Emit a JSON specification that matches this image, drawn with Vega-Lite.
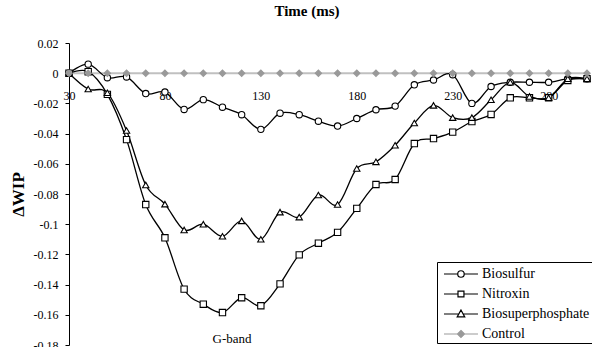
{
  "$schema": "https://vega.github.io/schema/vega-lite/v6.json",
  "width": 518,
  "height": 302,
  "autosize": {"type": "none"},
  "padding": {"left": 69, "top": 43, "right": 5, "bottom": 2},
  "background": "white",
  "title": {"text": "Time (ms)", "font": "Liberation Serif, Times New Roman, DejaVu Serif, serif", "fontSize": 15, "fontWeight": "bold", "anchor": "middle", "frame": "group", "dx": -21, "offset": 18, "color": "black"},
  "config": {
    "view": {"stroke": null},
    "font": "Liberation Serif, Times New Roman, DejaVu Serif, serif",
    "axis": {"labelFont": "Liberation Serif, Times New Roman, DejaVu Serif, serif", "titleFont": "Liberation Serif, Times New Roman, DejaVu Serif, serif", "labelOverlap": false},
    "legend": {"orient": "none", "legendX": 368, "legendY": 219, "title": null, "labelFont": "Liberation Serif, Times New Roman, DejaVu Serif, serif", "labelFontSize": 14, "labelColor": "black", "strokeColor": "black", "fillColor": "white", "padding": 2, "rowPadding": 3, "symbolSize": 324, "labelOffset": 23, "symbolStrokeWidth": 1.2, "cornerRadius": 0, "symbolOpacity": 1}
  },
  "resolve": {"scale": {"shape": "independent", "fill": "independent", "stroke": "independent"}},
  "data": {"values": [
    {"t":30,"s":"Biosulfur","v":0},{"t":40,"s":"Biosulfur","v":0.006},{"t":50,"s":"Biosulfur","v":-0.003},{"t":60,"s":"Biosulfur","v":-0.0025},{"t":70,"s":"Biosulfur","v":-0.0135},{"t":80,"s":"Biosulfur","v":-0.0125},{"t":90,"s":"Biosulfur","v":-0.024},{"t":100,"s":"Biosulfur","v":-0.0175},{"t":110,"s":"Biosulfur","v":-0.0225},{"t":120,"s":"Biosulfur","v":-0.0275},{"t":130,"s":"Biosulfur","v":-0.0372},{"t":140,"s":"Biosulfur","v":-0.0265},{"t":150,"s":"Biosulfur","v":-0.0275},{"t":160,"s":"Biosulfur","v":-0.0318},{"t":170,"s":"Biosulfur","v":-0.035},{"t":180,"s":"Biosulfur","v":-0.03},{"t":190,"s":"Biosulfur","v":-0.0242},{"t":200,"s":"Biosulfur","v":-0.0218},{"t":210,"s":"Biosulfur","v":-0.0077},{"t":220,"s":"Biosulfur","v":-0.0045},{"t":230,"s":"Biosulfur","v":-0.001},{"t":240,"s":"Biosulfur","v":-0.02},{"t":250,"s":"Biosulfur","v":-0.0088},{"t":260,"s":"Biosulfur","v":-0.006},{"t":270,"s":"Biosulfur","v":-0.006},{"t":280,"s":"Biosulfur","v":-0.006},{"t":290,"s":"Biosulfur","v":-0.0037},{"t":300,"s":"Biosulfur","v":-0.0037},
    {"t":30,"s":"Nitroxin","v":0},{"t":40,"s":"Nitroxin","v":0.001},{"t":50,"s":"Nitroxin","v":-0.014},{"t":60,"s":"Nitroxin","v":-0.044},{"t":70,"s":"Nitroxin","v":-0.087},{"t":80,"s":"Nitroxin","v":-0.109},{"t":90,"s":"Nitroxin","v":-0.143},{"t":100,"s":"Nitroxin","v":-0.153},{"t":110,"s":"Nitroxin","v":-0.1585},{"t":120,"s":"Nitroxin","v":-0.1487},{"t":130,"s":"Nitroxin","v":-0.154},{"t":140,"s":"Nitroxin","v":-0.1395},{"t":150,"s":"Nitroxin","v":-0.1203},{"t":160,"s":"Nitroxin","v":-0.1126},{"t":170,"s":"Nitroxin","v":-0.1054},{"t":180,"s":"Nitroxin","v":-0.0895},{"t":190,"s":"Nitroxin","v":-0.0737},{"t":200,"s":"Nitroxin","v":-0.0704},{"t":210,"s":"Nitroxin","v":-0.0466},{"t":220,"s":"Nitroxin","v":-0.0433},{"t":230,"s":"Nitroxin","v":-0.039},{"t":240,"s":"Nitroxin","v":-0.032},{"t":250,"s":"Nitroxin","v":-0.0273},{"t":260,"s":"Nitroxin","v":-0.0163},{"t":270,"s":"Nitroxin","v":-0.0163},{"t":280,"s":"Nitroxin","v":-0.0163},{"t":290,"s":"Nitroxin","v":-0.0048},{"t":300,"s":"Nitroxin","v":-0.0037},
    {"t":30,"s":"Biosuperphosphate","v":0},{"t":40,"s":"Biosuperphosphate","v":-0.0105},{"t":50,"s":"Biosuperphosphate","v":-0.013},{"t":60,"s":"Biosuperphosphate","v":-0.038},{"t":70,"s":"Biosuperphosphate","v":-0.074},{"t":80,"s":"Biosuperphosphate","v":-0.0867},{"t":90,"s":"Biosuperphosphate","v":-0.1038},{"t":100,"s":"Biosuperphosphate","v":-0.1},{"t":110,"s":"Biosuperphosphate","v":-0.108},{"t":120,"s":"Biosuperphosphate","v":-0.0978},{"t":130,"s":"Biosuperphosphate","v":-0.11},{"t":140,"s":"Biosuperphosphate","v":-0.092},{"t":150,"s":"Biosuperphosphate","v":-0.0953},{"t":160,"s":"Biosuperphosphate","v":-0.0807},{"t":170,"s":"Biosuperphosphate","v":-0.087},{"t":180,"s":"Biosuperphosphate","v":-0.0631},{"t":190,"s":"Biosuperphosphate","v":-0.0587},{"t":200,"s":"Biosuperphosphate","v":-0.0477},{"t":210,"s":"Biosuperphosphate","v":-0.033},{"t":220,"s":"Biosuperphosphate","v":-0.0213},{"t":230,"s":"Biosuperphosphate","v":-0.0294},{"t":240,"s":"Biosuperphosphate","v":-0.0294},{"t":250,"s":"Biosuperphosphate","v":-0.0176},{"t":260,"s":"Biosuperphosphate","v":-0.006},{"t":270,"s":"Biosuperphosphate","v":-0.0154},{"t":280,"s":"Biosuperphosphate","v":-0.0163},{"t":290,"s":"Biosuperphosphate","v":-0.0037},{"t":300,"s":"Biosuperphosphate","v":-0.0037},
    {"t":30,"s":"Control","v":0},{"t":40,"s":"Control","v":0},{"t":50,"s":"Control","v":0},{"t":60,"s":"Control","v":0},{"t":70,"s":"Control","v":0},{"t":80,"s":"Control","v":0},{"t":90,"s":"Control","v":0},{"t":100,"s":"Control","v":0},{"t":110,"s":"Control","v":0},{"t":120,"s":"Control","v":0},{"t":130,"s":"Control","v":0},{"t":140,"s":"Control","v":0},{"t":150,"s":"Control","v":0},{"t":160,"s":"Control","v":0},{"t":170,"s":"Control","v":0},{"t":180,"s":"Control","v":0},{"t":190,"s":"Control","v":0},{"t":200,"s":"Control","v":0},{"t":210,"s":"Control","v":0},{"t":220,"s":"Control","v":0},{"t":230,"s":"Control","v":0},{"t":240,"s":"Control","v":0},{"t":250,"s":"Control","v":0},{"t":260,"s":"Control","v":0},{"t":270,"s":"Control","v":0},{"t":280,"s":"Control","v":0},{"t":290,"s":"Control","v":0},{"t":300,"s":"Control","v":0}
  ]},
  "encoding": {
    "x": {"field": "t", "type": "quantitative", "scale": {"domain": [30, 300], "nice": false, "zero": false},
      "axis": {"orient": "bottom", "offset": -271.8, "values": [30, 80, 130, 180, 230, 280], "ticks": false, "domain": false, "grid": false, "title": null, "labelFontSize": 12, "labelColor": "black", "labelPadding": 17, "labelFlush": false, "labelOverlap": false, "format": "d"}},
    "y": {"field": "v", "type": "quantitative", "scale": {"domain": [-0.18, 0.02], "nice": false, "zero": false},
      "axis": {"values": [0.02, 0, -0.02, -0.04, -0.06, -0.08, -0.1, -0.12, -0.14, -0.16, -0.18], "labelExpr": "(datum.value < 0 ? '-' : '') + format(abs(datum.value), '.2~f')", "grid": false, "title": "ΔWIP", "titleFontSize": 17, "titleFontWeight": "bold", "titleColor": "black", "titlePadding": 6, "tickSize": 4, "tickColor": "black", "domainColor": "black", "labelPadding": 7, "labelFontSize": 12, "labelColor": "black", "labelFlush": false, "labelOverlap": false}}
  },
  "layer": [
    {
      "transform": [{"filter": "datum.s == 'Control'"}],
      "mark": {"type": "line", "color": "#c0c0c0", "strokeWidth": 2}
    },
    {
      "transform": [{"filter": "datum.s != 'Control'"}],
      "mark": {"type": "line", "color": "black", "strokeWidth": 1.3, "interpolate": "cardinal"},
      "encoding": {
        "detail": {"field": "s", "type": "nominal"}
      }
    },
    {
      "mark": {"type": "point", "filled": true, "size": 40, "strokeWidth": 1.1, "opacity": 1},
      "encoding": {
        "shape": {"field": "s", "type": "nominal",
          "scale": {"domain": ["Biosulfur", "Nitroxin", "Biosuperphosphate", "Control"], "range": ["circle", "square", "triangle-up", "diamond"]},
          "legend": null},
        "fill": {"field": "s", "type": "nominal",
          "scale": {"domain": ["Biosulfur", "Nitroxin", "Biosuperphosphate", "Control"], "range": ["white", "white", "white", "#999999"]},
          "legend": null},
        "stroke": {"field": "s", "type": "nominal",
          "scale": {"domain": ["Biosulfur", "Nitroxin", "Biosuperphosphate", "Control"], "range": ["black", "black", "black", "#999999"]},
          "legend": null}
      }
    },
    {
      "mark": {"type": "point", "filled": true, "size": 0, "strokeWidth": 1.2, "opacity": 1},
      "encoding": {
        "shape": {"field": "s", "type": "nominal",
          "scale": {"domain": ["Biosulfur", "Nitroxin", "Biosuperphosphate", "Control"], "range": [
            "M-0.56,0H0.97M1.69,0H3.22M0.97,0A0.36,0.36,0,1,1,1.69,0A0.36,0.36,0,1,1,0.97,0Z",
            "M-0.56,0H1M1.66,0H3.22M1,-0.33H1.66V0.33H1Z",
            "M-0.56,0H1.09M1.57,0H3.22M1.33,-0.45L1.75,0.33H0.91Z",
            "M-0.56,0H0.94M1.72,0H3.22M1.33,-0.39L1.72,0L1.33,0.39L0.94,0Z"]},
          "legend": {"title": null}},
        "fill": {"field": "s", "type": "nominal",
          "scale": {"domain": ["Biosulfur", "Nitroxin", "Biosuperphosphate", "Control"], "range": ["white", "white", "white", "#999999"]},
          "legend": {"title": null}},
        "stroke": {"field": "s", "type": "nominal",
          "scale": {"domain": ["Biosulfur", "Nitroxin", "Biosuperphosphate", "Control"], "range": ["black", "black", "black", "#999999"]},
          "legend": {"title": null}}
      }
    },
    {
      "data": {"values": [{"t": 115, "v": -0.176, "label": "G-band"}]},
      "mark": {"type": "text", "fontSize": 13, "color": "black", "baseline": "middle", "align": "center"},
      "encoding": {
        "text": {"field": "label"}
      }
    }
  ]
}
